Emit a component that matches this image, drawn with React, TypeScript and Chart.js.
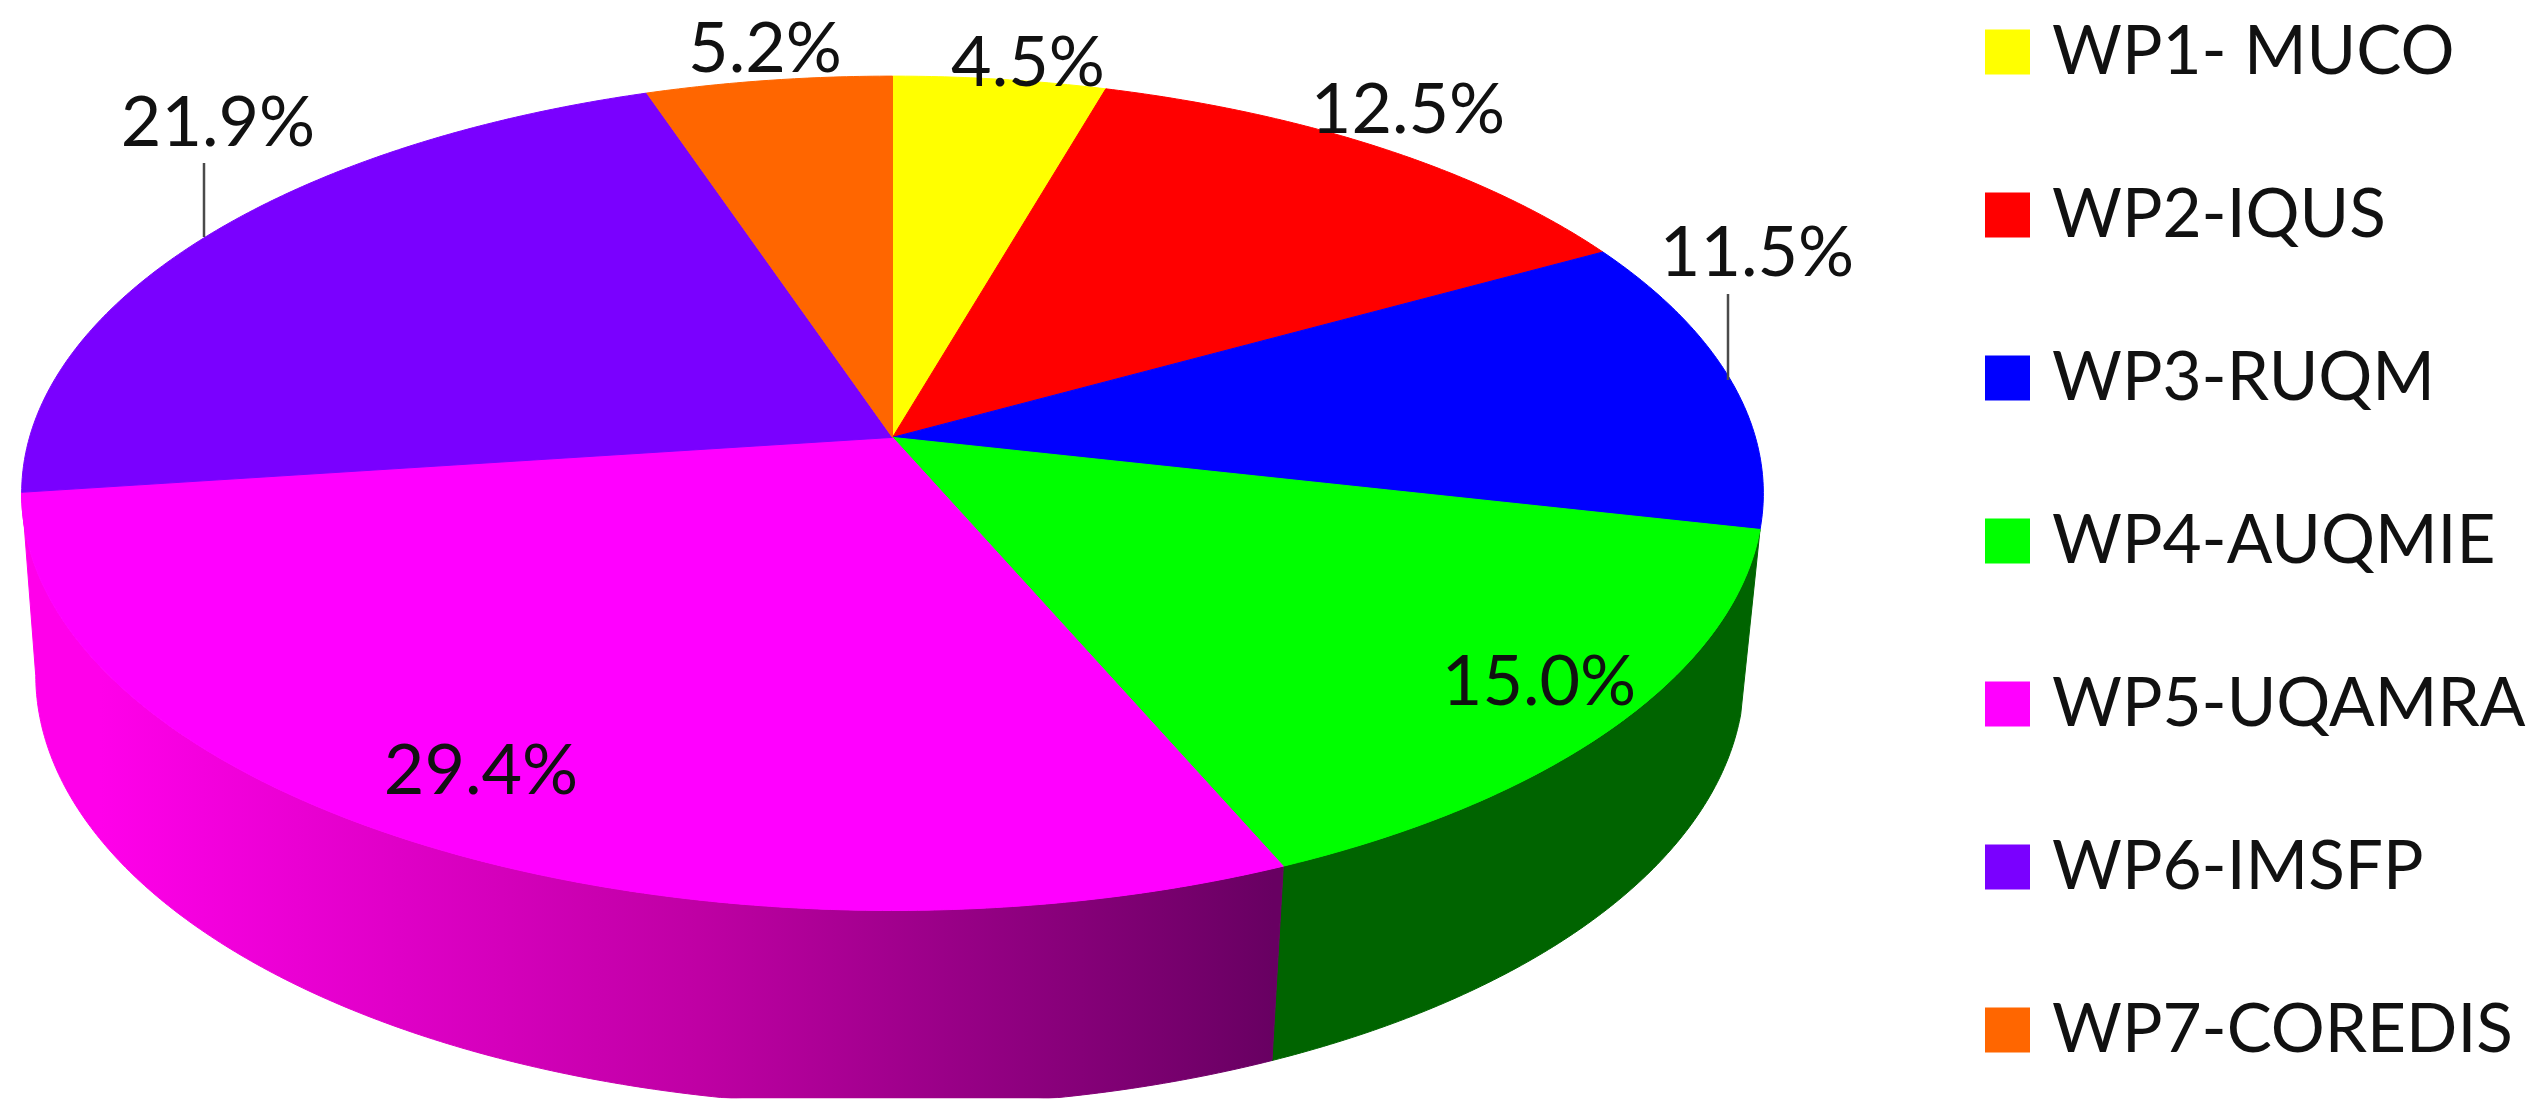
import React, { useEffect, useRef } from "react";
import { Chart, registerables } from "chart.js";

Chart.register(...registerables);

// ---- data ----
const categories = ["WP1- MUCO", "WP2-IQUS", "WP3-RUQM", "WP4-AUQMIE", "WP5-UQAMRA", "WP6-IMSFP", "WP7-COREDIS"];
const shares = [4.5, 12.5, 11.5, 15.0, 29.4, 21.9, 5.2];
const topColors = ["#ffff00", "#ff0000", "#0000ff", "#00ff00", "#ff00ff", "#7a00ff", "#ff6600"];
const sideColors = ["#808000", "#800000", "#000080", "#006400", "gradient", "#3d0080", "#803300"];

// ---- layout only ----
const TOP = { cx: 892.5, cy: 437.4, a: 863, b: 409.7, k: 0.134 };
const BOTTOM = { cx: 890, cy: 619, a: 847, b: 423.7, k: 0.13 };
const SIDE_RANGE: [number, number] = [97.5, 262.5];
const CROP_BOTTOM = 1098.3;
const LABEL_CENTRES: [number, number][] = [
  [1028, 63], [1408, 110], [1757, 253], [1539, 682], [481, 771], [218, 123], [765, 49],
];
const LEADERS: Record<number, [number, number, number, number]> = {
  2: [1728, 294, 1728, 380],
  5: [204, 163, 204, 237],
};
const LEGEND = { boxX: 1985, textX: 2052, firstY: 52, step: 163, box: 45 };
const FONT_FAMILY = "Lato, 'Open Sans', sans-serif";

type Disc = typeof TOP;

function project(d: Disc, deg: number, r = 1): [number, number] {
  const t = (deg * Math.PI) / 180;
  const x = r * Math.sin(t);
  const y = r * Math.cos(t);
  const den = 1 + d.k * y;
  return [d.cx + (d.a * x) / den, d.cy - (d.b * y) / den];
}

function traceArc(ctx: CanvasRenderingContext2D, d: Disc, from: number, to: number) {
  const steps = Math.max(2, Math.ceil(Math.abs(to - from) * 2));
  for (let i = 0; i <= steps; i++) {
    const [x, y] = project(d, from + ((to - from) * i) / steps);
    ctx.lineTo(x, y);
  }
}

const pie3d = {
  id: "pie3d",
  beforeDatasetDraw(chart: any) {
    const ctx: CanvasRenderingContext2D = chart.ctx;
    const arcs = chart.getDatasetMeta(0).data;
    const toDeg = (rad: number) => (rad * 180) / Math.PI + 90;

    ctx.save();
    ctx.lineJoin = "round";
    ctx.beginPath();
    ctx.rect(0, 0, chart.width, CROP_BOTTOM);
    ctx.clip();

    // side walls
    arcs.forEach((arc: any, i: number) => {
      const s = toDeg(arc.startAngle);
      const e = toDeg(arc.endAngle);
      const mid = (s + e) / 2;
      if (mid < 90 || mid > 270) return;
      ctx.beginPath();
      traceArc(ctx, TOP, s, e);
      traceArc(ctx, BOTTOM, Math.min(e, SIDE_RANGE[1]), Math.max(s, SIDE_RANGE[0]));
      ctx.closePath();
      let paint: string | CanvasGradient = sideColors[i];
      if (paint === "gradient") {
        const g = ctx.createLinearGradient(100, 0, 1273, 0);
        g.addColorStop(0, "#ff00ea");
        g.addColorStop(0.51, "#bf00a4");
        g.addColorStop(1, "#680062");
        paint = g;
      }
      ctx.fillStyle = paint;
      ctx.strokeStyle = paint;
      ctx.lineWidth = 1;
      ctx.fill();
      ctx.stroke();
    });

    // top face
    arcs.forEach((arc: any, i: number) => {
      const s = toDeg(arc.startAngle);
      const e = toDeg(arc.endAngle);
      ctx.beginPath();
      ctx.moveTo(TOP.cx, TOP.cy);
      traceArc(ctx, TOP, s, e);
      ctx.closePath();
      ctx.fillStyle = topColors[i];
      ctx.strokeStyle = topColors[i];
      ctx.lineWidth = 1;
      ctx.fill();
      ctx.stroke();
    });
    ctx.restore();
    return false;
  },
  afterDraw(chart: any) {
    const ctx: CanvasRenderingContext2D = chart.ctx;
    ctx.save();

    // leader lines
    ctx.strokeStyle = "#4a4a4a";
    ctx.lineWidth = 2.5;
    Object.values(LEADERS).forEach(([x1, y1, x2, y2]) => {
      ctx.beginPath();
      ctx.moveTo(x1, y1);
      ctx.lineTo(x2, y2);
      ctx.stroke();
    });

    // value labels
    ctx.fillStyle = "#111";
    ctx.textAlign = "center";
    ctx.textBaseline = "middle";
    ctx.font = `70px ${FONT_FAMILY}`;
    shares.forEach((v, i) => {
      const [x, y] = LABEL_CENTRES[i];
      ctx.fillText(`${v.toFixed(1)}%`, x, y);
    });

    // legend
    ctx.textAlign = "left";
    ctx.font = `67.5px ${FONT_FAMILY}`;
    categories.forEach((name, i) => {
      const y = LEGEND.firstY + LEGEND.step * i;
      ctx.fillStyle = topColors[i];
      ctx.fillRect(LEGEND.boxX, y - LEGEND.box / 2, LEGEND.box, LEGEND.box);
      ctx.fillStyle = "#111";
      ctx.fillText(name, LEGEND.textX, y);
    });
    ctx.restore();
  },
};

export default function App() {
  const ref = useRef<HTMLCanvasElement>(null);
  useEffect(() => {
    document.body.style.margin = "0";
    document.body.style.background = "#fff";
    const chart = new Chart(ref.current!, {
      type: "pie",
      data: {
        labels: categories,
        datasets: [{ data: shares, backgroundColor: topColors, borderWidth: 0 }],
      },
      options: {
        animation: false,
        responsive: false,
        plugins: { legend: { display: false }, tooltip: { enabled: false } },
      },
      plugins: [pie3d],
    });
    return () => chart.destroy();
  }, []);
  return (
    <canvas
      ref={ref}
      width={2540}
      height={1118}
      style={{ display: "block", width: 2540, height: 1118, filter: "blur(0.7px)" }}
    />
  );
}
